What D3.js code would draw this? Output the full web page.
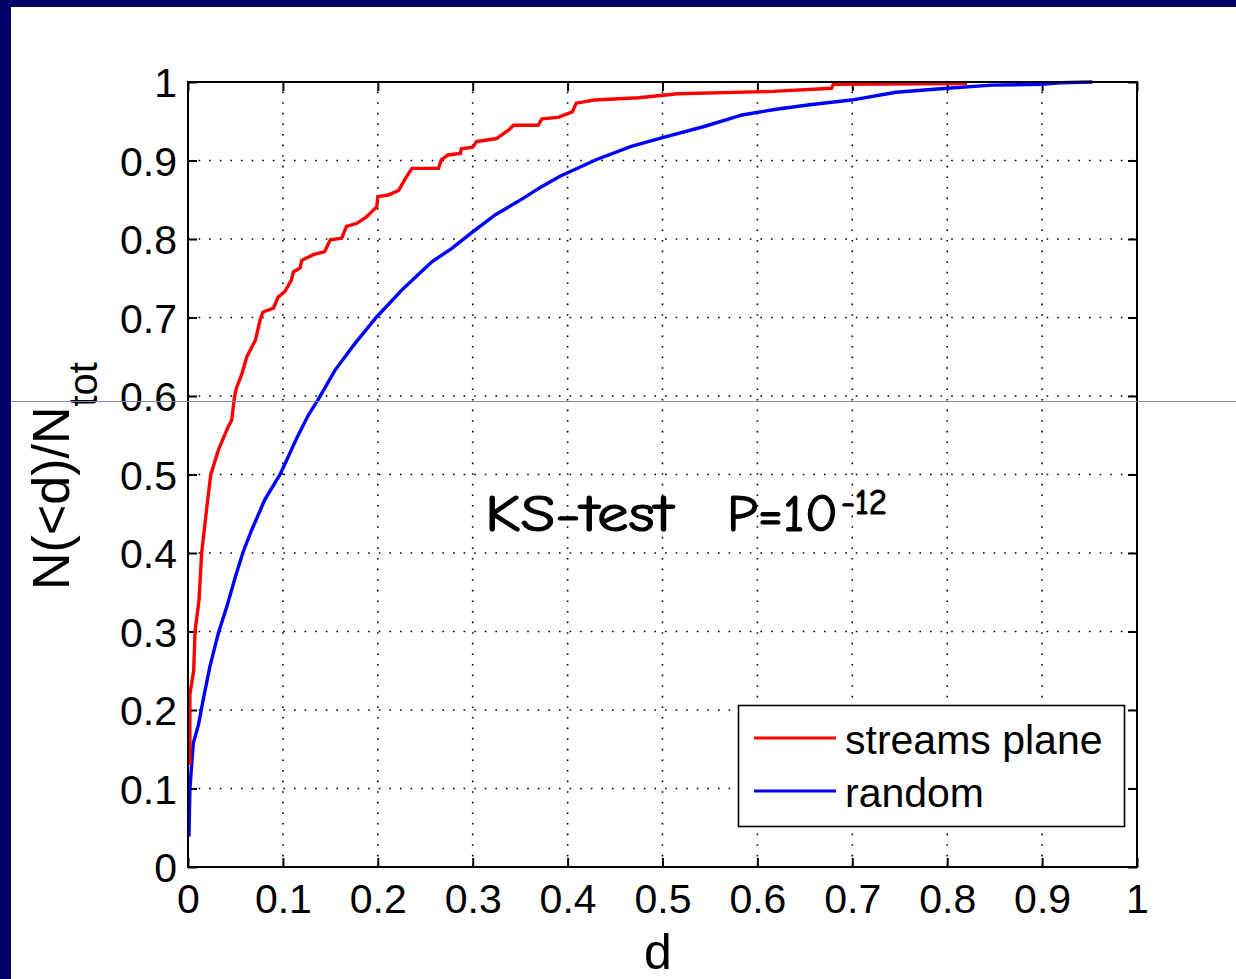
<!DOCTYPE html>
<html>
<head>
<meta charset="utf-8">
<script src="https://cdn.jsdelivr.net/npm/d3@7"></script>
<style>
  html, body { margin: 0; padding: 0; background: #fff; }
  svg { display: block; }
</style>
</head>
<body>
<svg id="chart" width="1236" height="979"></svg>
<script>
// ---- data ----
const seriesNames = ["streams plane", "random"];
const redD = [0.002,0.002,0.006,0.0074,0.0116,0.0144,0.020,0.024,0.032,0.042,0.046,0.049,0.051,0.057,0.062,0.071,0.076,0.079,0.090,0.095,0.102,0.109,0.111,0.118,0.120,0.132,0.144,0.150,0.162,0.167,0.178,0.188,0.199,0.200,0.211,0.222,0.229,0.236,0.264,0.267,0.274,0.287,0.288,0.300,0.304,0.325,0.338,0.343,0.369,0.373,0.390,0.405,0.409,0.428,0.475,0.516,0.616,0.678,0.680,0.821];
const redV = [0.13,0.22,0.25,0.30,0.34,0.40,0.46,0.50,0.531,0.56,0.569,0.599,0.61,0.629,0.65,0.671,0.697,0.707,0.712,0.726,0.733,0.748,0.758,0.763,0.773,0.780,0.784,0.799,0.801,0.816,0.820,0.828,0.841,0.854,0.856,0.862,0.877,0.890,0.890,0.901,0.907,0.909,0.915,0.917,0.924,0.928,0.939,0.945,0.945,0.953,0.955,0.962,0.973,0.977,0.980,0.985,0.988,0.992,0.997,0.998];
const blueD = [0.001,0.002,0.0056,0.011,0.016,0.023,0.032,0.041,0.050,0.058,0.067,0.081,0.097,0.105,0.114,0.127,0.137,0.155,0.176,0.199,0.227,0.257,0.278,0.300,0.324,0.348,0.373,0.392,0.430,0.467,0.500,0.543,0.584,0.618,0.655,0.699,0.746,0.800,0.847,0.899,0.919,0.953];
const blueV = [0.039,0.10,0.158,0.181,0.213,0.255,0.298,0.332,0.370,0.401,0.429,0.468,0.50,0.521,0.545,0.576,0.595,0.633,0.667,0.701,0.737,0.771,0.788,0.809,0.831,0.848,0.867,0.880,0.901,0.918,0.929,0.943,0.958,0.965,0.971,0.977,0.987,0.992,0.996,0.997,0.999,1.0];
const xTicks = [0,0.1,0.2,0.3,0.4,0.5,0.6,0.7,0.8,0.9,1];
const yTicks = [0,0.1,0.2,0.3,0.4,0.5,0.6,0.7,0.8,0.9,1];
const xTickLabels = ["0","0.1","0.2","0.3","0.4","0.5","0.6","0.7","0.8","0.9","1"];
const yTickLabels = ["0","0.1","0.2","0.3","0.4","0.5","0.6","0.7","0.8","0.9","1"];

// ---- layout ----
const W = 1236, H = 979;
const L = 188, R = 1137, T = 82, B = 867;
const svg = d3.select("#chart");
const font = "'Liberation Sans', Arial, Helvetica, sans-serif";
const navy = "#000066";

const x = d3.scaleLinear().domain([0, 1]).range([L, R]);
const y = d3.scaleLinear().domain([0, 1]).range([B, T]);

// background and frame of slide
svg.append("rect").attr("width", W).attr("height", H).attr("fill", "#fff");
svg.append("rect").attr("x", 0).attr("y", 0).attr("width", W).attr("height", 7).attr("fill", navy);
svg.append("rect").attr("x", 0).attr("y", 0).attr("width", 11).attr("height", H).attr("fill", navy);

// grid
const grid = svg.append("g");
grid.selectAll(".vg").data(xTicks.slice(1, -1)).enter().append("line")
  .attr("x1", d => x(d)).attr("x2", d => x(d)).attr("y1", B).attr("y2", T)
  .attr("stroke", "#000").attr("stroke-width", 1.6).attr("stroke-dasharray", "1.6,9");
grid.selectAll(".hg").data(yTicks.slice(1, -1)).enter().append("line")
  .attr("x1", L).attr("x2", R).attr("y1", d => y(d)).attr("y2", d => y(d))
  .attr("stroke", "#000").attr("stroke-width", 1.6).attr("stroke-dasharray", "1.6,9");

// axes (inward ticks, MATLAB-like)
const axB = d3.axisBottom(x).tickValues(xTicks).tickSize(-9).tickPadding(0)
  .tickFormat((d, i) => xTickLabels[i]);
const axT = d3.axisTop(x).tickValues(xTicks).tickSize(-9).tickFormat("");
const axL = d3.axisLeft(y).tickValues(yTicks).tickSize(-9).tickPadding(11)
  .tickFormat((d, i) => yTickLabels[i]);
const axR = d3.axisRight(y).tickValues(yTicks).tickSize(-9).tickFormat("");

function style(g) {
  g.select(".domain").remove();
  g.selectAll(".tick line").attr("stroke", "#000").attr("stroke-width", 2);
  g.selectAll(".tick text").attr("fill", "#000").style("font-family", font).style("font-size", "41px");
}
const gB = svg.append("g").attr("transform", `translate(0,${B})`).call(axB).call(style);
gB.selectAll(".tick text").attr("y", 46).attr("dy", null);
svg.append("g").attr("transform", `translate(0,${T})`).call(axT).call(style);
const gL = svg.append("g").attr("transform", `translate(${L},0)`).call(axL).call(style);
gL.selectAll(".tick text").attr("dy", "0.36em");
svg.append("g").attr("transform", `translate(${R},0)`).call(axR).call(style);

// curves
const line = d3.line().x(d => x(d[0])).y(d => y(d[1]));
const red = redD.map((d, i) => [d, redV[i]]);
const blue = blueD.map((d, i) => [d, blueV[i]]);
svg.append("path").datum(blue).attr("d", line).attr("fill", "none")
  .attr("stroke", "#0000ff").attr("stroke-width", 3.4).attr("stroke-linejoin", "miter");
svg.append("path").datum(red).attr("d", line).attr("fill", "none")
  .attr("stroke", "#ff0000").attr("stroke-width", 3.4).attr("stroke-linejoin", "miter");

// box
svg.append("rect").attr("x", L).attr("y", T).attr("width", R - L).attr("height", B - T)
  .attr("fill", "none").attr("stroke", "#000").attr("stroke-width", 2);

// axis labels
svg.append("text").attr("x", 658).attr("y", 969).attr("text-anchor", "middle")
  .style("font-family", font).style("font-size", "50px").text("d");
const yl = svg.append("text").attr("transform", "translate(69,476) rotate(-90)")
  .attr("text-anchor", "middle").style("font-family", font).style("font-size", "52px");
yl.append("tspan").text("N(<d)/N");
yl.append("tspan").attr("dy", 28).style("font-size", "40px").text("tot");

// annotation
const comic = "'Comic Sans MS', 'Comic Neue', 'DejaVu Sans', sans-serif";
function ann(tx, ax, ay, size, len) {
  svg.append("text").attr("x", ax).attr("y", ay).style("font-family", comic).style("font-size", size + "px")
    .attr("fill", "#000").attr("stroke", "#000").attr("stroke-width", 1.2)
    .attr("textLength", len).attr("lengthAdjust", "spacingAndGlyphs").text(tx);
}
ann("KS-test", 485, 531, 52, 188);
ann("P=10", 727, 531, 52, 111);
ann("-12", 841, 514, 36, 46);

// legend
const lg = svg.append("g");
lg.append("rect").attr("x", 738.5).attr("y", 705.5).attr("width", 386).attr("height", 121)
  .attr("fill", "#fff").attr("stroke", "#000").attr("stroke-width", 1.6);
const legColors = ["#ff0000", "#0000ff"];
const legY = [738, 791];
seriesNames.forEach((n, i) => {
  lg.append("line").attr("x1", 754).attr("x2", 836).attr("y1", legY[i]).attr("y2", legY[i])
    .attr("stroke", legColors[i]).attr("stroke-width", 3.2);
  lg.append("text").attr("x", 845).attr("y", legY[i] + 16).style("font-family", font)
    .style("font-size", "41px").text(n);
});

// thin horizontal slide artifact line
svg.append("line").attr("x1", 11).attr("x2", W).attr("y1", 401.5).attr("y2", 401.5)
  .attr("stroke", "#8585b5").attr("stroke-width", 1);
</script>
</body>
</html>
